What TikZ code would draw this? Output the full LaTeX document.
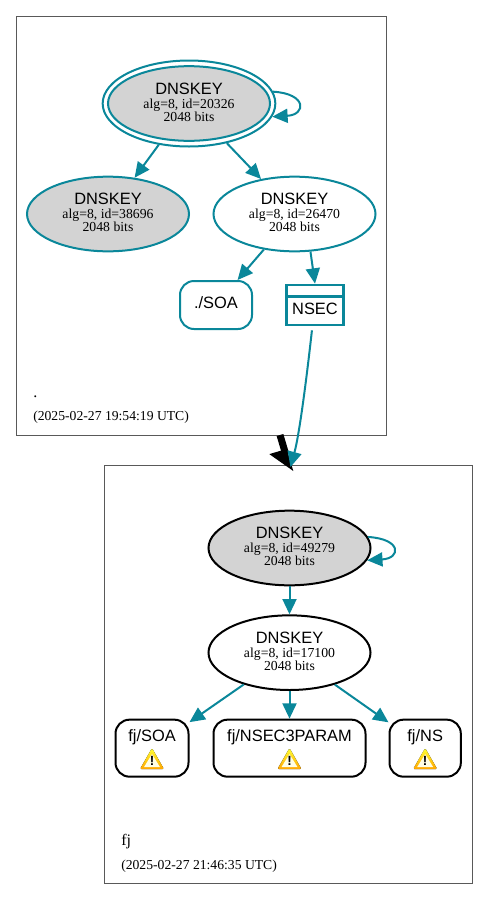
\documentclass[tikz,border=0pt]{standalone}
\usepackage{fontspec}
\setmainfont{Liberation Serif}
\setsansfont{Liberation Sans}
\usepackage{xcolor}
\usetikzlibrary{shapes,arrows.meta,positioning}
\definecolor{dnsteal}{HTML}{0A879A}
\definecolor{keygray}{HTML}{D3D3D3}
\newcommand{\keytext}[1]{{\sffamily\fontsize{12.3}{12}\selectfont DNSKEY}\\[0.8pt]alg=8, id=#1\\2048 bits\rule[-2pt]{0pt}{2pt}}

\begin{document}
\begin{tikzpicture}[
    x=0.75pt,
    y=-0.75pt,
    zone/.style={
        rectangle,
        draw=black!65,
        line width=0.6pt,
        anchor=north west
    },
    keynode/.style={
        ellipse,
        draw=dnsteal,
        line width=1.5pt,
        minimum width=121.5pt,
        minimum height=56pt,
        inner sep=0pt,
        align=center,
        font=\fontsize{10.3}{9.75}\selectfont
    },
    rrbox/.style={
        rectangle,
        draw=black,
        line width=1.5pt,
        rounded corners=10.5pt,
        minimum height=42.75pt,
        inner sep=0pt,
        text height=9pt,
        text depth=18.8pt,
        font=\sffamily\fontsize{12.3}{14}\selectfont
    },
    zonetext/.style={
        anchor=base west,
        inner sep=0pt,
        font=\fontsize{10.25}{12}\selectfont
    },
    arrow/.style={
        -{Triangle[length=11.5pt,width=10.5pt]},
        line width=1.5pt,
        draw=dnsteal
    },
    warnicon/.pic={
        \fill[top color=yellow!80!white, bottom color=orange!70!yellow, rounded corners=1pt]
            (0,-11) -- (12,10) -- (-12,10) -- cycle;
        \fill[white!90!yellow] (0,-5) -- (8,8) -- (-8,8) -- cycle;
        \node[inner sep=0pt, font=\sffamily\bfseries\fontsize{10}{10}\selectfont] at (0,1.5) {!};
    }
]
\useasboundingbox (0,0) rectangle (488,900);

% Zones
\node[zone, minimum width=277.5pt, minimum height=314.5pt] (zoneroot) at (16,15.5) {};
\node[zone, minimum width=275.75pt, minimum height=313.25pt] (zonefj) at (104,465) {};

% Root zone
\node[keynode, minimum width=129.5pt, minimum height=64.5pt] (ksk20326) at (189,103.5) {};
\node[keynode, fill=keygray] (k20326) at (189,103.5) {\keytext{20326}};
\node[keynode, fill=keygray] (k38696) at (108,214) {\keytext{38696}};
\node[keynode] (k26470) at (294.5,214) {\keytext{26470}};
\node[rrbox, draw=dnsteal, minimum width=54pt, minimum height=36pt, text height=8.6pt, text depth=4pt] (soaroot) at (216,305) {./SOA};
\node[rrbox, draw=dnsteal, line width=2pt, rounded corners=0pt, minimum width=43pt, minimum height=30pt, text height=13.5pt, text depth=0pt] (nsec) at (315,305) {NSEC};
\draw[draw=dnsteal, line width=2pt] ([yshift=-9.5pt]nsec.north west) -- ([yshift=-9.5pt]nsec.north east);
\node[zonetext] (nameroot) at (33,397) {\fontsize{12}{12}\selectfont .};
\node[zonetext] (timeroot) at (33,420) {(2025-02-27 19:54:19 UTC)};

% fj zone
\node[keynode, draw=black, fill=keygray] (k49279) at (289.5,548) {\keytext{49279}};
\node[keynode, draw=black, below=21pt of k49279] (k17100) {\keytext{17100}};
\node[rrbox, minimum width=114pt, below=20.75pt of k17100] (nsec3param) {fj/NSEC3PARAM};
\node[rrbox, minimum width=54.75pt, left=17.25pt of nsec3param] (soafj) {fj/SOA};
\node[rrbox, minimum width=53.5pt, right=16.5pt of nsec3param] (nsfj) {fj/NS};
\path ([yshift=-8.2pt]soafj.center) pic {warnicon};
\path ([yshift=-8.2pt]nsec3param.center) pic {warnicon};
\path ([yshift=-8.2pt]nsfj.center) pic {warnicon};
\node[zonetext, font=\fontsize{12}{12}\selectfont] (namefj) at (121,845) {fj};
\node[zonetext] (timefj) at (121,869) {(2025-02-27 21:46:35 UTC)};

% Delegation
\coordinate (delegstart) at (280,435);
\coordinate (delegend) at (291,472);
\coordinate (nsecend) at (290.5,467);
\draw[-{Triangle[harpoon,swap,length=15pt,width=22.5pt]}, line width=5.25pt, draw=black] (delegstart) -- (delegend);

% Arrows
\draw[arrow] (ksk20326.8) .. controls +(34,2) and +(34,-2) .. (ksk20326.-9);
\draw[arrow] (ksk20326) -- (k38696);
\draw[arrow] (ksk20326) -- (k26470);
\draw[arrow] (k26470) -- (soaroot);
\draw[arrow] (k26470.-67) -- (nsec.north);
\draw[arrow] ([xshift=-2.3pt,yshift=-3pt]nsec.south) .. controls +(-5,45) and +(9,-33) .. (nsecend);
\draw[arrow] (k49279.8) .. controls +(34,2) and +(34,-2) .. (k49279.-9);
\draw[arrow] (k49279) -- (k17100);
\draw[arrow] (k17100) -- (soafj);
\draw[arrow] (k17100) -- (nsec3param);
\draw[arrow] (k17100) -- (nsfj);

\end{tikzpicture}
\end{document}
